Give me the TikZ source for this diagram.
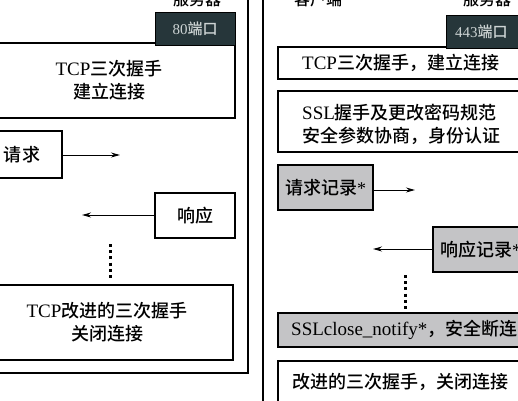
\documentclass[tikz,border=0pt]{standalone}
\usepackage{fontspec}
\setmainfont{Liberation Serif}
\newfontfamily\cjk{Noto Sans CJK SC Medium}
\newcommand\zh[1]{{\cjk #1}}
\usetikzlibrary{arrows.meta}
\definecolor{portfill}{RGB}{38,54,58}
\definecolor{porttext}{RGB}{205,212,212}
\definecolor{recfill}{RGB}{196,196,198}
\begin{document}
\begin{tikzpicture}[x=1pt,y=-1pt,
  txt/.style={font=\fontsize{18}{23}\selectfont},
  box/.style={draw=black,line width=1.6pt,fill=white,inner sep=0pt,txt},
  graybox/.style={box,fill=recfill},
  portbox/.style={draw=black,line width=1pt,fill=portfill,text=porttext,inner sep=0pt,font=\fontsize{15}{18}\selectfont},
  frame/.style={draw=black,line width=1.8pt},
  msg/.style={line width=1pt,-{Stealth[length=9pt,width=5pt]}},
  dots/.style={line width=3pt,dash pattern=on 3pt off 3.2pt},
  head/.style={font=\fontsize{16}{20}\selectfont,inner sep=0pt,anchor=south}]
\useasboundingbox (0,0) rectangle (518,400);
\clip (0,0) rectangle (518,400);
% ---------- left panel ----------
\draw[frame] (-20,-20) rectangle (248,373);
\node[head] (srvL) at (197,7) {\zh{服务器}};
\node[box,minimum width=252pt,minimum height=75pt,align=center] (tcpL) at (109,80.5) {{\fontsize{19}{23}\selectfont TCP}\zh{三次握手}\\\zh{建立连接}};
\node[portbox,minimum width=80pt,minimum height=33pt] (p80) at (195,28.5) {80\zh{端口}};
\node[box,minimum width=80pt,minimum height=47pt] (reqL) at (22,154.5) {\zh{请求}};
\node[box,minimum width=80pt,minimum height=45pt] (respL) at (195,215.5) {\zh{响应}};
\coordinate (reqLend) at (120,155);
\coordinate (respLend) at (82,215);
\draw[msg] (reqL.east |- reqLend) -- (reqLend);
\draw[msg] (respL.west |- respLend) -- (respLend);
\coordinate (dL1) at (110,244);
\coordinate (dL2) at (110,279);
\draw[dots] (dL1) -- (dL2);
\node[box,minimum width=252pt,minimum height=75pt,align=center] (closeL) at (107,322.5) {{\fontsize{19}{23}\selectfont TCP}\zh{改进的三次握手}\\\zh{关闭连接}};
% ---------- right panel ----------
\draw[frame] (263,-20) rectangle (540,420);
\node[head] (cli) at (318,7) {\zh{客户端}};
\node[head] (srvR) at (487,7) {\zh{服务器}};
\node[box,minimum width=262pt,minimum height=32pt] (tcpR) at (409,63) {};
\node[txt,anchor=west,inner sep=0pt] (tcpRt) at (302,63) {{\fontsize{19}{23}\selectfont TCP}\zh{三次握手，建立连接}};
\node[portbox,minimum width=90pt,minimum height=33pt] (p443) at (491,31.5) {};
\node[anchor=west,inner sep=0pt,text=porttext,font=\fontsize{15}{18}\selectfont] (p443t) at (455,31.5) {443\zh{端口}};
\node[box,minimum width=262pt,minimum height=61pt] (sslR) at (409,121.5) {};
\node[txt,anchor=west,inner sep=0pt,align=left] (sslRt) at (302,124) {{\fontsize{19}{23}\selectfont SSL}\zh{握手及更改密码规范}\\\zh{安全参数协商，身份认证}};
\node[graybox,minimum width=95pt,minimum height=45pt] (reqR) at (325.5,187.5) {\zh{请求记录}*};
\coordinate (reqRend) at (415,190);
\draw[msg] (reqR.east |- reqRend) -- (reqRend);
\node[graybox,minimum width=97pt,minimum height=45pt] (respR) at (481.5,249.5) {};
\node[txt,anchor=west,inner sep=0pt] (respRt) at (440,249.5) {\zh{响应记录}*};
\coordinate (respRend) at (373,249);
\draw[msg] (respR.west |- respRend) -- (respRend);
\coordinate (dR1) at (405,275);
\coordinate (dR2) at (405,310);
\draw[dots] (dR1) -- (dR2);
\node[graybox,minimum width=262pt,minimum height=34pt] (sslclose) at (409,330) {};
\node[txt,anchor=west,inner sep=0pt] (sslcloset) at (291,330) {{\fontsize{19}{23}\selectfont SSLclose\_notify*}\zh{，安全断连}};
\node[box,minimum width=262pt,minimum height=60pt] (closeR) at (409,391) {};
\node[txt,anchor=west,inner sep=0pt] (closeRt) at (292,382) {\zh{改进的三次握手，关闭连接}};
\end{tikzpicture}
\end{document}
